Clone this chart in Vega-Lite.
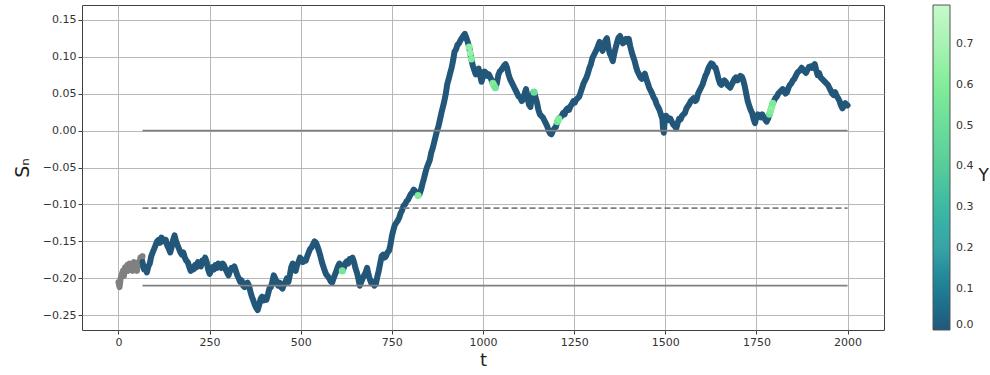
{
  "$schema": "https://vega.github.io/schema/vega-lite/v6.json",
  "autosize": {"type": "none"},
  "width": 802,
  "height": 325,
  "padding": {"left": 82, "top": 5, "right": 106, "bottom": 45},
  "config": {
    "font": "DejaVu Sans",
    "view": {"stroke": "#404040", "strokeWidth": 1},
    "axis": {
      "labelFont": "DejaVu Sans", "labelFontSize": 11, "labelColor": "#333333",
      "tickColor": "#404040", "tickSize": 4, "domain": false,
      "grid": true, "gridColor": "#b0b0b0", "gridWidth": 0.9,
      "titleFont": "DejaVu Sans", "titleFontWeight": "normal", "titleColor": "#222222"
    }
  },
  "datasets": {
    "burnin": [
      {"t":0,"s":-0.205},{"t":3,"s":-0.212},{"t":6,"s":-0.2},{"t":9,"s":-0.195},{"t":12,"s":-0.19},{"t":15,"s":-0.197},{"t":18,"s":-0.185},{"t":21,"s":-0.19},{"t":24,"s":-0.182},{"t":27,"s":-0.19},{"t":30,"s":-0.18},{"t":33,"s":-0.188},{"t":36,"s":-0.183},{"t":39,"s":-0.19},{"t":42,"s":-0.178},{"t":45,"s":-0.186},{"t":48,"s":-0.182},{"t":51,"s":-0.19},{"t":54,"s":-0.178},{"t":57,"s":-0.183},{"t":60,"s":-0.172},{"t":63,"s":-0.18},{"t":66,"s":-0.17}
    ],
    "walk": [
      {"t":66,"s":-0.178},{"t":70,"s":-0.188},{"t":74,"s":-0.185},{"t":78,"s":-0.192},{"t":82,"s":-0.184},{"t":86,"s":-0.18},{"t":90,"s":-0.17},{"t":94,"s":-0.165},{"t":98,"s":-0.16},{"t":102,"s":-0.155},{"t":106,"s":-0.15},{"t":110,"s":-0.148},{"t":114,"s":-0.152},{"t":118,"s":-0.145},{"t":122,"s":-0.147},{"t":126,"s":-0.15},{"t":130,"s":-0.148},{"t":134,"s":-0.156},{"t":138,"s":-0.16},{"t":142,"s":-0.165},{"t":146,"s":-0.158},{"t":150,"s":-0.148},{"t":154,"s":-0.142},{"t":158,"s":-0.15},{"t":162,"s":-0.155},{"t":166,"s":-0.16},{"t":170,"s":-0.165},{"t":174,"s":-0.168},{"t":178,"s":-0.165},{"t":182,"s":-0.172},{"t":186,"s":-0.176},{"t":190,"s":-0.178},{"t":194,"s":-0.184},{"t":198,"s":-0.19},{"t":202,"s":-0.186},{"t":206,"s":-0.188},{"t":210,"s":-0.182},{"t":214,"s":-0.185},{"t":218,"s":-0.178},{"t":222,"s":-0.18},{"t":226,"s":-0.184},{"t":230,"s":-0.176},{"t":234,"s":-0.179},{"t":238,"s":-0.172},{"t":242,"s":-0.178},{"t":246,"s":-0.188},{"t":250,"s":-0.194},{"t":254,"s":-0.19},{"t":258,"s":-0.185},{"t":262,"s":-0.188},{"t":266,"s":-0.182},{"t":270,"s":-0.186},{"t":274,"s":-0.18},{"t":278,"s":-0.184},{"t":282,"s":-0.186},{"t":286,"s":-0.18},{"t":290,"s":-0.183},{"t":294,"s":-0.188},{"t":298,"s":-0.192},{"t":302,"s":-0.196},{"t":306,"s":-0.19},{"t":310,"s":-0.186},{"t":314,"s":-0.188},{"t":318,"s":-0.184},{"t":322,"s":-0.19},{"t":326,"s":-0.196},{"t":330,"s":-0.2},{"t":334,"s":-0.205},{"t":338,"s":-0.203},{"t":342,"s":-0.21},{"t":346,"s":-0.212},{"t":350,"s":-0.207},{"t":354,"s":-0.206},{"t":358,"s":-0.21},{"t":362,"s":-0.218},{"t":366,"s":-0.225},{"t":370,"s":-0.23},{"t":374,"s":-0.236},{"t":378,"s":-0.24},{"t":382,"s":-0.243},{"t":386,"s":-0.236},{"t":390,"s":-0.228},{"t":394,"s":-0.225},{"t":398,"s":-0.23},{"t":402,"s":-0.226},{"t":406,"s":-0.229},{"t":410,"s":-0.222},{"t":414,"s":-0.214},{"t":418,"s":-0.212},{"t":422,"s":-0.205},{"t":426,"s":-0.196},{"t":430,"s":-0.2},{"t":434,"s":-0.205},{"t":438,"s":-0.21},{"t":442,"s":-0.206},{"t":446,"s":-0.212},{"t":450,"s":-0.214},{"t":454,"s":-0.208},{"t":458,"s":-0.205},{"t":462,"s":-0.2},{"t":466,"s":-0.205},{"t":470,"s":-0.196},{"t":474,"s":-0.185},{"t":478,"s":-0.18},{"t":482,"s":-0.188},{"t":486,"s":-0.19},{"t":490,"s":-0.182},{"t":494,"s":-0.178},{"t":498,"s":-0.172},{"t":502,"s":-0.174},{"t":506,"s":-0.178},{"t":510,"s":-0.175},{"t":514,"s":-0.176},{"t":518,"s":-0.17},{"t":522,"s":-0.165},{"t":526,"s":-0.16},{"t":530,"s":-0.158},{"t":534,"s":-0.154},{"t":538,"s":-0.15},{"t":542,"s":-0.152},{"t":546,"s":-0.157},{"t":550,"s":-0.163},{"t":554,"s":-0.17},{"t":558,"s":-0.178},{"t":562,"s":-0.184},{"t":566,"s":-0.19},{"t":570,"s":-0.195},{"t":574,"s":-0.197},{"t":578,"s":-0.2},{"t":582,"s":-0.204},{"t":586,"s":-0.206},{"t":590,"s":-0.2},{"t":594,"s":-0.195},{"t":598,"s":-0.19},{"t":602,"s":-0.184},{"t":606,"s":-0.18},{"t":610,"s":-0.185},{"t":614,"s":-0.19,"Y":0.55},{"t":618,"s":-0.186},{"t":622,"s":-0.18},{"t":626,"s":-0.177},{"t":630,"s":-0.18},{"t":634,"s":-0.174},{"t":638,"s":-0.175},{"t":642,"s":-0.172},{"t":646,"s":-0.178},{"t":650,"s":-0.186},{"t":654,"s":-0.192},{"t":658,"s":-0.2},{"t":662,"s":-0.21},{"t":666,"s":-0.205},{"t":670,"s":-0.2},{"t":674,"s":-0.196},{"t":678,"s":-0.192},{"t":682,"s":-0.186},{"t":686,"s":-0.195},{"t":690,"s":-0.202},{"t":694,"s":-0.207},{"t":698,"s":-0.205},{"t":702,"s":-0.21},{"t":706,"s":-0.208},{"t":710,"s":-0.198},{"t":714,"s":-0.19},{"t":718,"s":-0.18},{"t":722,"s":-0.17},{"t":726,"s":-0.168},{"t":730,"s":-0.172},{"t":734,"s":-0.17},{"t":738,"s":-0.165},{"t":742,"s":-0.163},{"t":746,"s":-0.155},{"t":750,"s":-0.143},{"t":754,"s":-0.135},{"t":758,"s":-0.128},{"t":762,"s":-0.125},{"t":766,"s":-0.122},{"t":770,"s":-0.118},{"t":774,"s":-0.112},{"t":778,"s":-0.108},{"t":782,"s":-0.102},{"t":786,"s":-0.1},{"t":790,"s":-0.096},{"t":794,"s":-0.094},{"t":798,"s":-0.09},{"t":802,"s":-0.086},{"t":806,"s":-0.084},{"t":810,"s":-0.08},{"t":814,"s":-0.082},{"t":818,"s":-0.085},{"t":822,"s":-0.088,"Y":0.6},{"t":826,"s":-0.086},{"t":830,"s":-0.08},{"t":834,"s":-0.072},{"t":838,"s":-0.065},{"t":842,"s":-0.057},{"t":846,"s":-0.05},{"t":850,"s":-0.045},{"t":854,"s":-0.04},{"t":858,"s":-0.03},{"t":862,"s":-0.024},{"t":866,"s":-0.016},{"t":870,"s":-0.008},{"t":874,"s":0.0},{"t":878,"s":0.006},{"t":882,"s":0.015},{"t":886,"s":0.024},{"t":890,"s":0.032},{"t":894,"s":0.04},{"t":898,"s":0.05},{"t":902,"s":0.063},{"t":906,"s":0.07},{"t":910,"s":0.078},{"t":914,"s":0.085},{"t":918,"s":0.095},{"t":922,"s":0.107},{"t":926,"s":0.11},{"t":930,"s":0.116},{"t":934,"s":0.118},{"t":938,"s":0.122},{"t":942,"s":0.125},{"t":946,"s":0.128},{"t":950,"s":0.131},{"t":954,"s":0.126},{"t":958,"s":0.12},{"t":962,"s":0.113,"Y":0.62},{"t":965,"s":0.105,"Y":0.65},{"t":968,"s":0.097,"Y":0.6},{"t":972,"s":0.088},{"t":976,"s":0.082},{"t":980,"s":0.076},{"t":984,"s":0.08},{"t":988,"s":0.084},{"t":992,"s":0.075},{"t":996,"s":0.066},{"t":1000,"s":0.074},{"t":1004,"s":0.08},{"t":1008,"s":0.078},{"t":1012,"s":0.074},{"t":1016,"s":0.076},{"t":1020,"s":0.072},{"t":1024,"s":0.068},{"t":1027,"s":0.064,"Y":0.58},{"t":1030,"s":0.061,"Y":0.6},{"t":1034,"s":0.058,"Y":0.55},{"t":1038,"s":0.064},{"t":1042,"s":0.075},{"t":1046,"s":0.08},{"t":1050,"s":0.082},{"t":1054,"s":0.085},{"t":1058,"s":0.088},{"t":1062,"s":0.09},{"t":1066,"s":0.085},{"t":1070,"s":0.076},{"t":1074,"s":0.07},{"t":1078,"s":0.066},{"t":1082,"s":0.062},{"t":1086,"s":0.058},{"t":1090,"s":0.054},{"t":1094,"s":0.05},{"t":1098,"s":0.046},{"t":1102,"s":0.045},{"t":1106,"s":0.04},{"t":1110,"s":0.042},{"t":1114,"s":0.05},{"t":1118,"s":0.056},{"t":1122,"s":0.046},{"t":1126,"s":0.035},{"t":1130,"s":0.032},{"t":1134,"s":0.045},{"t":1138,"s":0.052},{"t":1140,"s":0.052,"Y":0.5},{"t":1144,"s":0.045},{"t":1148,"s":0.038},{"t":1152,"s":0.028},{"t":1156,"s":0.022},{"t":1160,"s":0.02},{"t":1164,"s":0.018},{"t":1168,"s":0.014},{"t":1172,"s":0.01},{"t":1176,"s":0.006},{"t":1180,"s":0.0},{"t":1184,"s":-0.004},{"t":1188,"s":-0.005},{"t":1192,"s":0.0},{"t":1196,"s":0.003},{"t":1200,"s":0.005},{"t":1204,"s":0.012,"Y":0.55},{"t":1208,"s":0.016,"Y":0.6},{"t":1212,"s":0.018},{"t":1216,"s":0.02},{"t":1220,"s":0.024},{"t":1224,"s":0.022},{"t":1228,"s":0.028},{"t":1232,"s":0.03},{"t":1236,"s":0.028},{"t":1240,"s":0.033},{"t":1244,"s":0.036},{"t":1248,"s":0.04},{"t":1252,"s":0.038},{"t":1256,"s":0.042},{"t":1260,"s":0.044},{"t":1264,"s":0.046},{"t":1268,"s":0.052},{"t":1272,"s":0.058},{"t":1276,"s":0.064},{"t":1280,"s":0.068},{"t":1284,"s":0.072},{"t":1288,"s":0.078},{"t":1292,"s":0.085},{"t":1296,"s":0.09},{"t":1300,"s":0.098},{"t":1304,"s":0.102},{"t":1308,"s":0.106},{"t":1312,"s":0.11},{"t":1316,"s":0.115},{"t":1320,"s":0.12},{"t":1324,"s":0.114},{"t":1328,"s":0.108},{"t":1332,"s":0.116},{"t":1336,"s":0.122},{"t":1340,"s":0.125},{"t":1344,"s":0.112},{"t":1348,"s":0.104},{"t":1352,"s":0.1},{"t":1356,"s":0.094},{"t":1360,"s":0.104},{"t":1364,"s":0.112},{"t":1368,"s":0.12},{"t":1372,"s":0.126},{"t":1376,"s":0.128},{"t":1380,"s":0.122},{"t":1384,"s":0.118},{"t":1388,"s":0.121},{"t":1392,"s":0.124},{"t":1396,"s":0.12},{"t":1400,"s":0.124},{"t":1404,"s":0.114},{"t":1408,"s":0.106},{"t":1412,"s":0.1},{"t":1416,"s":0.094},{"t":1420,"s":0.086},{"t":1424,"s":0.08},{"t":1428,"s":0.076},{"t":1432,"s":0.072},{"t":1436,"s":0.07},{"t":1440,"s":0.074},{"t":1444,"s":0.077},{"t":1448,"s":0.07},{"t":1452,"s":0.064},{"t":1456,"s":0.058},{"t":1460,"s":0.054},{"t":1464,"s":0.05},{"t":1468,"s":0.045},{"t":1472,"s":0.042},{"t":1476,"s":0.036},{"t":1480,"s":0.032},{"t":1484,"s":0.028},{"t":1488,"s":0.022},{"t":1492,"s":0.016},{"t":1494,"s":0.002},{"t":1496,"s":-0.003},{"t":1498,"s":0.01},{"t":1502,"s":0.02},{"t":1506,"s":0.018},{"t":1510,"s":0.014},{"t":1514,"s":0.016},{"t":1518,"s":0.012},{"t":1522,"s":0.008},{"t":1526,"s":0.006},{"t":1530,"s":0.003},{"t":1534,"s":0.01},{"t":1538,"s":0.016},{"t":1542,"s":0.015},{"t":1546,"s":0.02},{"t":1550,"s":0.022},{"t":1554,"s":0.024},{"t":1558,"s":0.03},{"t":1562,"s":0.033},{"t":1566,"s":0.036},{"t":1570,"s":0.04},{"t":1574,"s":0.042},{"t":1578,"s":0.044},{"t":1582,"s":0.04},{"t":1586,"s":0.042},{"t":1590,"s":0.05},{"t":1594,"s":0.054},{"t":1598,"s":0.058},{"t":1602,"s":0.062},{"t":1606,"s":0.068},{"t":1610,"s":0.074},{"t":1614,"s":0.078},{"t":1618,"s":0.084},{"t":1622,"s":0.088},{"t":1626,"s":0.091},{"t":1630,"s":0.09},{"t":1634,"s":0.086},{"t":1638,"s":0.085},{"t":1642,"s":0.078},{"t":1646,"s":0.07},{"t":1650,"s":0.064},{"t":1654,"s":0.062},{"t":1658,"s":0.066},{"t":1662,"s":0.068},{"t":1666,"s":0.066},{"t":1670,"s":0.062},{"t":1674,"s":0.06},{"t":1678,"s":0.058},{"t":1682,"s":0.062},{"t":1686,"s":0.066},{"t":1690,"s":0.07},{"t":1694,"s":0.072},{"t":1698,"s":0.068},{"t":1702,"s":0.07},{"t":1706,"s":0.074},{"t":1710,"s":0.073},{"t":1714,"s":0.068},{"t":1718,"s":0.06},{"t":1722,"s":0.05},{"t":1726,"s":0.04},{"t":1730,"s":0.034},{"t":1734,"s":0.028},{"t":1738,"s":0.024},{"t":1742,"s":0.016},{"t":1746,"s":0.01},{"t":1750,"s":0.018},{"t":1754,"s":0.022},{"t":1758,"s":0.02},{"t":1762,"s":0.018},{"t":1766,"s":0.022},{"t":1770,"s":0.018},{"t":1774,"s":0.015},{"t":1778,"s":0.012},{"t":1782,"s":0.016},{"t":1786,"s":0.022,"Y":0.55},{"t":1789,"s":0.027,"Y":0.6},{"t":1792,"s":0.032,"Y":0.62},{"t":1795,"s":0.037,"Y":0.58},{"t":1798,"s":0.04},{"t":1802,"s":0.044},{"t":1806,"s":0.046},{"t":1810,"s":0.05},{"t":1814,"s":0.052},{"t":1818,"s":0.054},{"t":1822,"s":0.056},{"t":1826,"s":0.054},{"t":1830,"s":0.05},{"t":1834,"s":0.052},{"t":1838,"s":0.058},{"t":1842,"s":0.062},{"t":1846,"s":0.064},{"t":1850,"s":0.068},{"t":1854,"s":0.07},{"t":1858,"s":0.074},{"t":1862,"s":0.078},{"t":1866,"s":0.08},{"t":1870,"s":0.082},{"t":1874,"s":0.085},{"t":1878,"s":0.083},{"t":1882,"s":0.08},{"t":1886,"s":0.078},{"t":1890,"s":0.082},{"t":1894,"s":0.086},{"t":1898,"s":0.087},{"t":1902,"s":0.085},{"t":1906,"s":0.088},{"t":1910,"s":0.09},{"t":1914,"s":0.082},{"t":1918,"s":0.075},{"t":1922,"s":0.078},{"t":1926,"s":0.072},{"t":1930,"s":0.07},{"t":1934,"s":0.068},{"t":1938,"s":0.066},{"t":1942,"s":0.064},{"t":1946,"s":0.062},{"t":1950,"s":0.058},{"t":1954,"s":0.054},{"t":1958,"s":0.05},{"t":1962,"s":0.048},{"t":1966,"s":0.052},{"t":1970,"s":0.047},{"t":1974,"s":0.044},{"t":1978,"s":0.04},{"t":1982,"s":0.034},{"t":1986,"s":0.03},{"t":1990,"s":0.033},{"t":1994,"s":0.037},{"t":1998,"s":0.035},{"t":2000,"s":0.034}
    ],
    "levels": [
      {"name": "upper", "t0": 66, "t1": 2000, "s": 0.0},
      {"name": "mid", "t0": 66, "t1": 2000, "s": -0.105},
      {"name": "lower", "t0": 66, "t1": 2000, "s": -0.21}
    ]
  },
  "layer": [
    {
      "encoding": {
        "x": {
          "field": "t", "type": "quantitative",
          "scale": {"domain": [-100, 2100], "nice": false, "zero": false},
          "axis": {"values": [0,250,500,750,1000,1250,1500,1750,2000], "format": "d", "title": "t", "titleFontSize": 18, "titlePadding": 4}
        },
        "y": {
          "field": "s", "type": "quantitative",
          "scale": {"domain": [-0.27, 0.17], "nice": false, "zero": false},
          "axis": {"values": [-0.25,-0.2,-0.15,-0.1,-0.05,0,0.05,0.1,0.15], "format": ".2f", "title": "Sₙ", "titleFontSize": 19, "titlePadding": 10}
        }
      },
      "layer": [
        {
          "data": {"name": "burnin"},
          "mark": {"type": "line", "color": "#808080", "strokeWidth": 6, "strokeJoin": "round", "strokeCap": "round"},
          "encoding": {}
        },
        {
          "data": {"name": "walk"},
          "mark": {"type": "line", "color": "#22577A", "strokeWidth": 6, "strokeJoin": "round", "strokeCap": "round"},
          "encoding": {}
        },
        {
          "data": {"name": "walk"},
          "transform": [{"filter": "datum.Y > 0"}],
          "mark": {"type": "circle", "size": 50, "opacity": 1},
          "encoding": {
            "color": {
              "field": "Y", "type": "quantitative",
              "scale": {"domain": [0, 0.795], "range": ["#22577A", "#38A3A5", "#57CC99", "#80ED99", "#C7F9CC"]},
              "legend": {
                "title": null, "orient": "none", "legendX": 851, "legendY": 0,
                "gradientLength": 325, "gradientThickness": 17, "gradientStrokeColor": "#555555", "gradientStrokeWidth": 1,
                "values": [0, 0.1, 0.2, 0.3, 0.4, 0.5, 0.6, 0.7], "format": ".1f", "labelOverlap": false,
                "labelFontSize": 11, "labelColor": "#333333", "labelOffset": 6,
                "padding": 0
              }
            }
          }
        },
        {
          "data": {"name": "levels"},
          "transform": [{"filter": "datum.name !== 'mid'"}],
          "mark": {"type": "rule", "color": "#808080", "strokeWidth": 1.8},
          "encoding": {"x": {"field": "t0", "type": "quantitative"}, "x2": {"field": "t1"}, "y": {"field": "s", "type": "quantitative"}}
        }
      ]
    },
    {
      "data": {"name": "levels"},
      "transform": [{"filter": "datum.name === 'mid'"}],
      "mark": {"type": "rule", "color": "#808080", "strokeWidth": 1.8, "strokeDash": [6, 3]},
      "encoding": {
        "x": {"field": "t0", "type": "quantitative", "scale": {"domain": [-100, 2100], "nice": false, "zero": false}},
        "x2": {"field": "t1"},
        "y": {
          "field": "s", "type": "quantitative",
          "scale": {"domain": [-0.27, 0.17], "nice": false, "zero": false},
          "axis": {"orient": "right", "title": "Y", "titleAngle": 0, "titleAlign": "left", "titleBaseline": "middle",
                   "titleFontSize": 17, "titlePadding": 94, "titleY": 170,
                   "labels": false, "ticks": false, "grid": false, "domain": false}
        }
      }
    }
  ],
  "resolve": {"scale": {"y": "independent"}, "axis": {"y": "independent"}}
}
